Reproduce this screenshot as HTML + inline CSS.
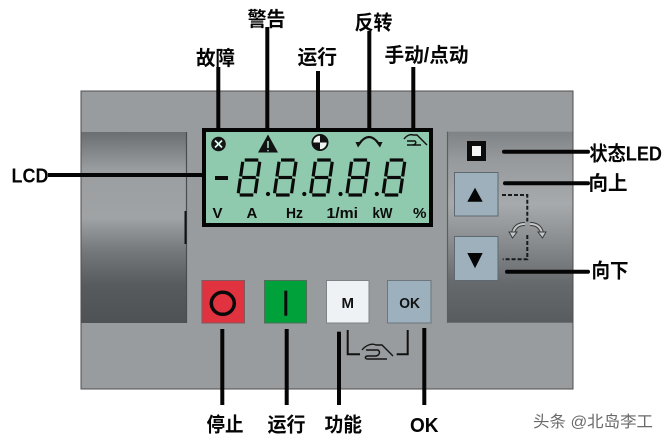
<!DOCTYPE html>
<html><head><meta charset="utf-8"><style>
html,body{margin:0;padding:0;background:#fff;}
svg{display:block;}
text{font-family:"Liberation Sans","Noto Sans CJK SC",sans-serif;font-weight:bold;}
</style></head><body>
<svg width="667" height="442" viewBox="0 0 667 442" xmlns="http://www.w3.org/2000/svg">
<defs>
<linearGradient id="gl" x1="0" y1="0" x2="0" y2="1">
<stop offset="0" stop-color="#6a6e70"/><stop offset="0.2" stop-color="#9b9ea0"/><stop offset="0.45" stop-color="#a0a3a5"/><stop offset="0.62" stop-color="#75797b"/><stop offset="0.8" stop-color="#575b5d"/><stop offset="1" stop-color="#4e5254"/>
</linearGradient>
<linearGradient id="gr" x1="0" y1="0" x2="0" y2="1">
<stop offset="0" stop-color="#7f8385"/><stop offset="0.15" stop-color="#979a9c"/><stop offset="0.38" stop-color="#a7aaac"/><stop offset="0.6" stop-color="#86898b"/><stop offset="0.8" stop-color="#65696b"/><stop offset="1" stop-color="#585c5e"/>
</linearGradient>
<g id="dg" stroke="#0a0a0a" stroke-width="3.2" fill="none">
<line x1="6.7" y1="160" x2="20.3" y2="160"/>
<line x1="21.75" y1="161.75" x2="19.65" y2="176.45"/>
<line x1="19.35" y1="178.55" x2="17.25" y2="193.25"/>
<line x1="1.7" y1="195" x2="15.3" y2="195"/>
<line x1="2.35" y1="178.55" x2="0.25" y2="193.25"/>
<line x1="4.75" y1="161.75" x2="2.65" y2="176.45"/>
<line x1="4.2" y1="177.5" x2="17.8" y2="177.5"/>
</g>
</defs>

<!-- panel -->
<rect x="81" y="91" width="492" height="298" fill="#999c9e" stroke="#4e4e4e" stroke-width="1"/>
<rect x="81.5" y="132" width="105" height="191" fill="url(#gl)"/>
<line x1="186.5" y1="132" x2="186.5" y2="323" stroke="#4a4d4f" stroke-width="1.2"/>
<rect x="184.5" y="211" width="2" height="33" fill="#111"/>
<rect x="447" y="131.7" width="125.5" height="191" fill="url(#gr)"/>
<line x1="447.5" y1="131.7" x2="447.5" y2="322.7" stroke="#5a5e60" stroke-width="1.2"/>

<!-- LCD -->
<rect x="204" y="130" width="227" height="95" fill="#8fcaae" stroke="#050505" stroke-width="4"/>
<circle cx="218.5" cy="144" r="7.3" fill="#151515"/>
<line x1="215" y1="140.5" x2="222" y2="147.5" stroke="#dfe" stroke-width="1.7"/>
<line x1="222" y1="140.5" x2="215" y2="147.5" stroke="#dfe" stroke-width="1.7"/>
<polygon points="258,152.5 278,152.5 268,134.5" fill="#111"/>
<line x1="268" y1="141" x2="268" y2="148" stroke="#8fcaae" stroke-width="1.8"/>
<circle cx="268" cy="150.6" r="0.9" fill="#8fcaae"/>
<circle cx="320" cy="142.5" r="7.6" fill="#eef4f0" stroke="#111" stroke-width="1.8"/>
<path d="M320,142.5 L320,134.9 A7.6,7.6 0 0 1 327.6,142.5 Z" fill="#111"/>
<path d="M320,142.5 L320,150.1 A7.6,7.6 0 0 1 312.4,142.5 Z" fill="#111"/>
<path d="M359,144 Q369,130 379,144" stroke="#111" stroke-width="2.2" fill="none"/>
<polygon points="355.5,142 362,142 358,147.5" fill="#111"/>
<polygon points="376,142 382.5,142 380,147.5" fill="#111"/>
<path d="M404,139 C407,135 411,134 413,135 L417,135 L427,145 M407,141 L415,141 C417,143 415,145 412,145 L407,145 M412,145 L421,145" stroke="#111" stroke-width="1.4" fill="none"/>
<line x1="215" y1="178" x2="228" y2="178" stroke="#0a0a0a" stroke-width="4"/>
<use href="#dg" x="238" y="0"/>
<use href="#dg" x="274.3" y="0"/>
<use href="#dg" x="310.5" y="0"/>
<use href="#dg" x="346.8" y="0"/>
<use href="#dg" x="383" y="0"/>
<circle cx="268" cy="194" r="2.1" fill="#0a0a0a"/>
<circle cx="304.3" cy="194" r="2.1" fill="#0a0a0a"/>
<circle cx="340.5" cy="194" r="2.1" fill="#0a0a0a"/>
<circle cx="376.8" cy="194" r="2.1" fill="#0a0a0a"/>
<g font-size="15" fill="#0a0a0a">
<text x="212.5" y="218">V</text>
<text x="246.5" y="218">A</text>
<text x="286" y="218" textLength="17" lengthAdjust="spacingAndGlyphs">Hz</text>
<text x="326.5" y="218" textLength="31.5" lengthAdjust="spacingAndGlyphs">1/mi</text>
<text x="372.5" y="218" textLength="20" lengthAdjust="spacingAndGlyphs">kW</text>
<text x="413" y="218" textLength="13.5" lengthAdjust="spacingAndGlyphs">%</text>
</g>

<!-- right side controls -->
<rect x="467" y="141" width="19" height="20" fill="#0c0c0c"/>
<rect x="472" y="146" width="9" height="10" fill="#f4f4f4"/>
<rect x="454.5" y="172.5" width="43.5" height="43.5" fill="#9db0bc" stroke="#5f6970" stroke-width="1"/>
<polygon points="467.3,201.7 482.7,201.7 475,187.7" fill="#050505"/>
<rect x="454.5" y="236.5" width="43.5" height="44" fill="#9db0bc" stroke="#5f6970" stroke-width="1"/>
<polygon points="467.3,253 482.7,253 475,268.3" fill="#050505"/>
<path d="M502,195 L527.3,195 L527.3,221.5" stroke="#1a1a1a" stroke-width="2" stroke-dasharray="4,2" fill="none"/>
<path d="M527.3,235 L527.3,259.3 L502.7,259.3" stroke="#1a1a1a" stroke-width="2" stroke-dasharray="4,2" fill="none"/>
<path d="M525,224 Q515,224 513,233" stroke="#3a3a3a" stroke-width="4" fill="none"/>
<path d="M525,224 Q515,224 513,233" stroke="#c4c7c9" stroke-width="2" fill="none"/>
<polygon points="509,232 517,232 512.5,238" fill="#c4c7c9" stroke="#3a3a3a" stroke-width="1"/>
<path d="M530,224 Q540,224 542,233" stroke="#3a3a3a" stroke-width="4" fill="none"/>
<path d="M530,224 Q540,224 542,233" stroke="#c4c7c9" stroke-width="2" fill="none"/>
<polygon points="538,232 546,232 542.5,238" fill="#c4c7c9" stroke="#3a3a3a" stroke-width="1"/>

<!-- buttons -->
<rect x="202" y="280.5" width="42.5" height="42.5" fill="#e1333f" stroke="#7d5a5e" stroke-width="1"/>
<ellipse cx="222.8" cy="303.3" rx="11.5" ry="11" fill="none" stroke="#0a0a0a" stroke-width="3.5"/>
<rect x="264.5" y="280.5" width="42" height="42.5" fill="#00a03b" stroke="#4e6e58" stroke-width="1"/>
<rect x="284.3" y="290.7" width="3" height="25" fill="#0a0a0a"/>
<rect x="326.5" y="280.5" width="42.5" height="42.5" fill="#eff2f5" stroke="#7c8286" stroke-width="1"/>
<text x="341.5" y="307.8" font-size="15" fill="#111" textLength="12.5" lengthAdjust="spacingAndGlyphs">M</text>
<rect x="387.5" y="280.5" width="43.5" height="42.5" fill="#9cb0bd" stroke="#6c767c" stroke-width="1"/>
<text x="399.3" y="307.8" font-size="14.5" fill="#111" textLength="20.7" lengthAdjust="spacingAndGlyphs">OK</text>
<path d="M347.7,330 L347.7,354.3 L360,354.3" stroke="#111" stroke-width="2" fill="none"/>
<path d="M407.7,330 L407.7,354.3 L396.7,354.3" stroke="#111" stroke-width="2" fill="none"/>
<path d="M362,350 C366,345 372,343 376,345 L382,345 L393,356 M366,350 L378,350 C381,352 379,356 375,356 L368,356 C365,356 364,359 368,359 L387,359" stroke="#151515" stroke-width="1.4" fill="none"/>

<!-- leader lines -->
<rect x="216.3" y="67" width="4" height="62" fill="#050505"/>
<rect x="265.3" y="27" width="4" height="102" fill="#050505"/>
<rect x="316" y="71" width="4" height="58" fill="#050505"/>
<rect x="367.3" y="31" width="4" height="98" fill="#050505"/>
<rect x="411.3" y="67" width="4" height="62" fill="#050505"/>
<rect x="48" y="173" width="156" height="4" fill="#050505"/>
<rect x="502" y="149.7" width="88" height="4" rx="2" fill="#050505"/>
<rect x="503" y="181.3" width="87" height="4" rx="2" fill="#050505"/>
<rect x="505" y="269.7" width="85" height="4" rx="2" fill="#050505"/>
<rect x="220.3" y="329" width="4" height="76" fill="#050505"/>
<rect x="284.7" y="329" width="4" height="76" fill="#050505"/>
<rect x="337" y="331.7" width="4" height="73.3" fill="#050505"/>
<rect x="422.3" y="328" width="4" height="77" fill="#050505"/>

<!-- labels -->
<g font-size="20" fill="#050505">
<text x="196" y="65" textLength="39" lengthAdjust="spacingAndGlyphs">故障</text>
<text x="247.5" y="26" textLength="38" lengthAdjust="spacingAndGlyphs">警告</text>
<text x="297.5" y="64" textLength="39.5" lengthAdjust="spacingAndGlyphs">运行</text>
<text x="354.5" y="29.5" textLength="38" lengthAdjust="spacingAndGlyphs">反转</text>
<text x="384.5" y="62" textLength="84" lengthAdjust="spacingAndGlyphs">手动/点动</text>
<text x="11.5" y="182.7" textLength="37" lengthAdjust="spacingAndGlyphs">LCD</text>
<text x="589.5" y="160.5" textLength="72.5" lengthAdjust="spacingAndGlyphs">状态LED</text>
<text x="588.5" y="190" textLength="39" lengthAdjust="spacingAndGlyphs">向上</text>
<text x="591.5" y="277.5" textLength="37" lengthAdjust="spacingAndGlyphs">向下</text>
<text x="206.5" y="431.5" textLength="37" lengthAdjust="spacingAndGlyphs">停止</text>
<text x="267.5" y="431.5" textLength="38" lengthAdjust="spacingAndGlyphs">运行</text>
<text x="324.5" y="431.5" textLength="37.5" lengthAdjust="spacingAndGlyphs">功能</text>
<text x="410" y="432" textLength="28.5" lengthAdjust="spacingAndGlyphs">OK</text>
</g>
<text x="533" y="427" font-size="16" fill="#6a6a6a" style="font-weight:normal" textLength="120" lengthAdjust="spacingAndGlyphs">头条 @北岛李工</text>
</svg>
</body></html>
